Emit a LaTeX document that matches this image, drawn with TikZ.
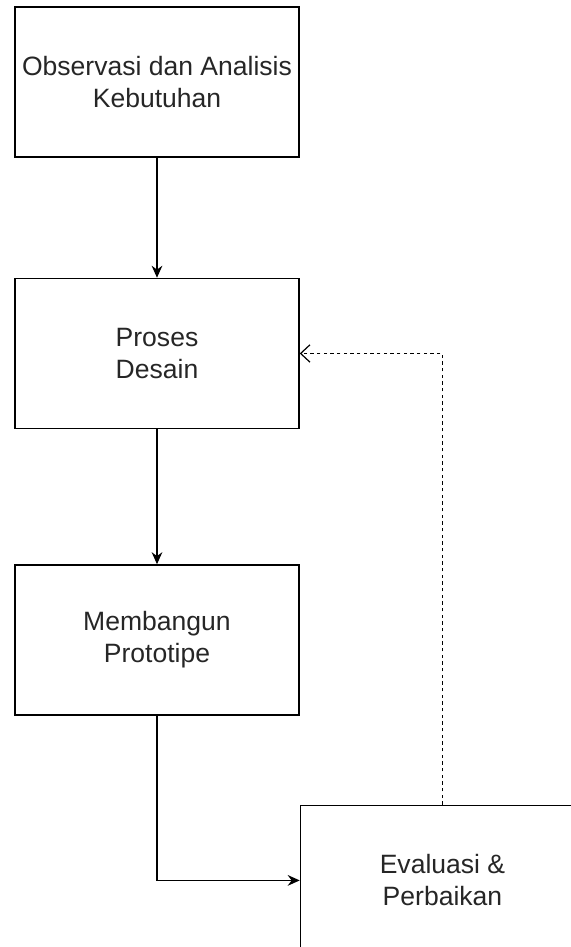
\documentclass[tikz,border=0pt]{standalone}
\usepackage{fontspec}
\setmainfont{Liberation Sans}
\usetikzlibrary{arrows.meta,positioning}

\begin{document}
\begin{tikzpicture}[>={Stealth[length=9pt,width=8pt]}, line width=1.1pt]
    \tikzstyle{stage}=[draw, minimum width=213pt, minimum height=112.5pt, align=center, font=\fontsize{19.9}{23.9}\selectfont, text=black!85, inner sep=0pt]
    \tikzstyle{feedback}=[dash pattern=on 2.5pt off 2.5pt, line width=0.9pt, -{Straight Barb[length=7pt,width=13pt]}]

    \clip (-117.75pt,61.5pt) rectangle (310.5pt,-648.75pt);

    \node[stage] (observasi) at (0,0) {Observasi dan Analisis\\Kebutuhan};
    \node[stage, below=90pt of observasi] (desain) {Proses\\Desain};
    \node[stage, below=101.25pt of desain] (prototipe) {Membangun\\Prototipe};
    \node[stage, below right=66.75pt and 0pt of prototipe.south east, anchor=north west] (evaluasi) {Evaluasi \&\\Perbaikan};

    \draw[->] (observasi) -- (desain);
    \draw[->] (desain) -- (prototipe);
    \draw[->] (prototipe.south) |- (evaluasi.west);
    \draw[feedback] (evaluasi.north) |- (desain.east);
\end{tikzpicture}
\end{document}
